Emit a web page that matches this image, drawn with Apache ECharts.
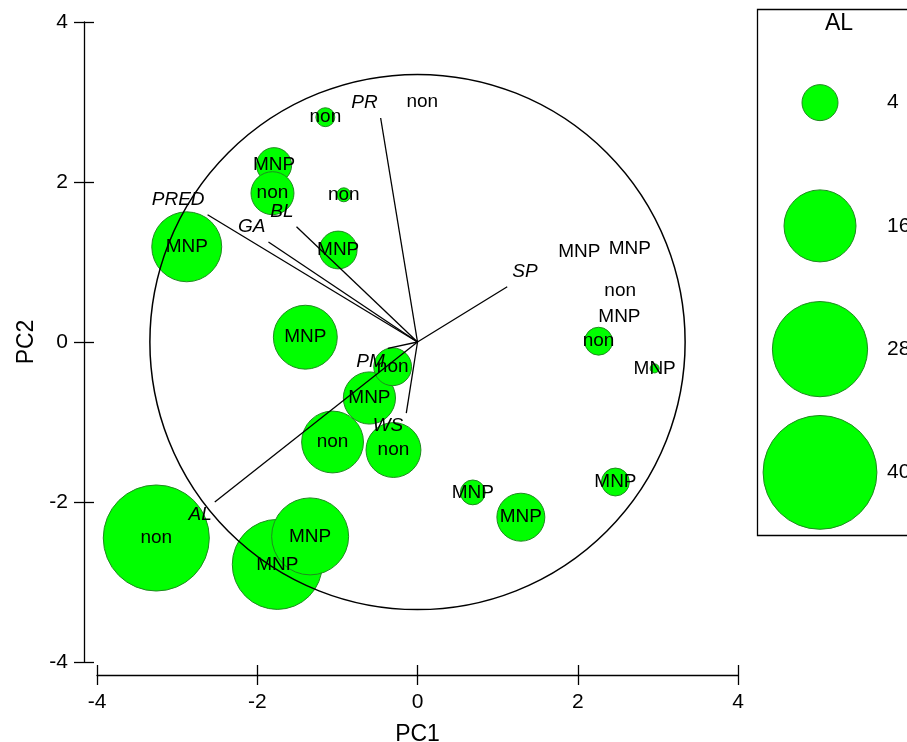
<!DOCTYPE html>
<html>
<head>
<meta charset="utf-8">
<script src="https://cdn.jsdelivr.net/npm/echarts@6/dist/echarts.min.js"></script>
<style>html,body{margin:0;padding:0;background:#fff;}#c{width:907px;height:742px;}</style>
</head>
<body>
<div id="c"></div>
<script>
// ---- data ----
const groups = ['non','MNP','non','non','MNP','MNP','MNP','MNP','non','non','non','non','MNP','MNP','non','MNP','MNP','MNP','non','MNP','non','MNP','MNP','MNP'];
const pc1    = [-1.15,-1.79,-1.81,-0.92,-2.88,-0.99,-1.40,-0.60,-0.31,-1.06,-0.30,-3.26,-1.75,-1.34, 2.26, 2.96, 2.02, 2.65, 2.53, 2.52, 0.06, 0.69, 1.29, 2.47];
const pc2    = [ 2.81, 2.21, 1.86, 1.84, 1.19, 1.15, 0.06,-0.70,-0.31,-1.25,-1.35,-2.45,-2.78,-2.43, 0.01,-0.33, 1.13, 1.16, 0.64, 0.31, 3.00,-1.88,-2.19,-1.75];
const alVals = [ 1.1, 3.8, 5.7, 0.6, 15.1, 4.4, 12.6, 8.4, 4.4, 11.8, 9.3, 34.7, 25, 18.3, 2.4, 0.25, 0, 0, 0, 0, 0, 1.9, 7.1, 2.4];

const vecNames = ['PR','PRED','GA','BL','SP','PM','WS','AL'];
const vecX     = [-0.46,-2.62,-1.86,-1.51, 1.12,-0.37,-0.14,-2.53];
const vecY     = [ 2.80, 1.59, 1.25, 1.44, 0.69,-0.08,-0.89,-2.00];

const circleRadius = 3.34;
const legendVals = [4, 16, 28, 40];
const xTicks = [-4, -2, 0, 2, 4];
const yTicks = [-4, -2, 0, 2, 4];

// ---- chart ----
const FONT = 'Liberation Sans, Arial, sans-serif';
const sizeOf = v => 18 * Math.sqrt(v);
const pts = groups.map((g, i) => [pc1[i], pc2[i], alVals[i], g]);
const vecs = vecNames.map((n, i) => [vecX[i], vecY[i], n]);

const axisCommon = {
  type: 'value', min: xTicks[0], max: xTicks[xTicks.length - 1], interval: 2,
  splitLine: { show: false }
};
const lineStyle = { color: '#000', width: 1.3 };

const chart = echarts.init(document.getElementById('c'), null, { renderer: 'canvas' });
chart.setOption({
  animation: false,
  backgroundColor: '#fff',
  textStyle: { fontFamily: FONT },
  grid: [
    { left: 97, right: 169, top: 22, bottom: 80, containLabel: false, outerBoundsMode: 'none' },
    { left: 761, width: 118, top: 41, height: 493, containLabel: false, outerBoundsMode: 'none' }
  ],
  xAxis: [
    Object.assign({}, axisCommon, {
      gridIndex: 0, position: 'bottom', offset: 13,
      axisLine: { show: true, onZero: false, lineStyle },
      axisTick: { show: true, length: 10, lineStyle },
      axisLabel: { fontSize: 21, color: '#000', margin: 17, fontFamily: FONT },
      name: 'PC1', nameLocation: 'middle', nameGap: 48,
      nameTextStyle: { fontSize: 23, color: '#000', fontFamily: FONT }
    }),
    Object.assign({}, axisCommon, {
      gridIndex: 0, position: 'bottom', offset: 13,
      axisLine: { show: false, onZero: false },
      axisTick: { show: true, inside: true, length: 10, lineStyle },
      axisLabel: { show: false }
    }),
    { type: 'value', gridIndex: 1, min: 0, max: 1, show: false }
  ],
  yAxis: [
    Object.assign({}, axisCommon, {
      min: yTicks[0], max: yTicks[yTicks.length - 1],
      gridIndex: 0, position: 'left', offset: 13,
      axisLine: { show: true, onZero: false, lineStyle },
      axisTick: { show: true, length: 10, lineStyle },
      axisLabel: { fontSize: 21, color: '#000', margin: 16, fontFamily: FONT },
      name: 'PC2', nameLocation: 'middle', nameGap: 43,
      nameTextStyle: { fontSize: 23, color: '#000', fontFamily: FONT }
    }),
    Object.assign({}, axisCommon, {
      min: yTicks[0], max: yTicks[yTicks.length - 1],
      gridIndex: 0, position: 'left', offset: 13,
      axisLine: { show: false, onZero: false },
      axisTick: { show: true, inside: true, length: 10, lineStyle },
      axisLabel: { show: false }
    }),
    {
      type: 'category', gridIndex: 1, inverse: true, position: 'right',
      data: legendVals.map(String),
      axisLine: { show: false }, axisTick: { show: false }, splitLine: { show: false },
      axisLabel: { fontSize: 21, color: '#000', margin: 8, fontFamily: FONT }
    }
  ],
  graphic: [
    { type: 'rect', shape: { x: 757.5, y: 9.5, width: 170, height: 526 },
      style: { fill: 'none', stroke: '#000', lineWidth: 1.3 }, z: 1 },
    { type: 'text', x: 839, y: 24, style: { text: 'AL', font: '23px ' + FONT, fill: '#000',
      textAlign: 'center', textVerticalAlign: 'middle' }, z: 5 }
  ],
  series: [
    {
      type: 'scatter', xAxisIndex: 0, yAxisIndex: 0, z: 2,
      data: pts,
      symbolSize: v => sizeOf(v[2]),
      itemStyle: { color: '#00ff00', borderColor: '#1f8a1f', borderWidth: 1, opacity: 1 },
      emphasis: { disabled: true }
    },
    {
      type: 'custom', xAxisIndex: 0, yAxisIndex: 0, z: 3,
      data: [[0, 0, circleRadius]],
      renderItem: (params, api) => {
        const c = api.coord([api.value(0), api.value(1)]);
        const r = api.size([api.value(2), 0])[0];
        return { type: 'circle', shape: { cx: c[0], cy: c[1], r },
          style: { fill: 'none', stroke: '#000', lineWidth: 1.5 } };
      }
    },
    {
      type: 'custom', xAxisIndex: 0, yAxisIndex: 0, z: 3,
      data: vecs,
      renderItem: (params, api) => {
        const o = api.coord([0, 0]);
        const vx = api.value(0), vy = api.value(1);
        const e = api.coord([vx, vy]);
        const name = vecs[params.dataIndex][2];
        return {
          type: 'group',
          children: [
            { type: 'line', shape: { x1: o[0], y1: o[1], x2: e[0], y2: e[1] },
              style: { stroke: '#000', lineWidth: 1.3 } },
            { type: 'text', x: e[0] + (vx < 0 ? -3 : 5), y: e[1] + (vy < 0 ? 13 : -15),
              style: { text: name, font: 'italic 19px ' + FONT, fill: '#000',
                textAlign: vx < 0 ? 'right' : 'left', textVerticalAlign: 'middle' } }
          ]
        };
      }
    },
    {
      type: 'scatter', xAxisIndex: 0, yAxisIndex: 0, z: 4,
      data: pts, symbolSize: 0,
      itemStyle: { opacity: 1 },
      label: { show: true, position: 'inside', formatter: p => p.value[3],
        fontSize: 19, color: '#000', opacity: 1, fontFamily: FONT },
      emphasis: { disabled: true }
    },
    {
      type: 'scatter', xAxisIndex: 2, yAxisIndex: 2, z: 2,
      data: legendVals.map((v, i) => [0.5, i, v]),
      symbolSize: v => sizeOf(v[2]),
      itemStyle: { color: '#00ff00', borderColor: '#1f8a1f', borderWidth: 1, opacity: 1 },
      emphasis: { disabled: true }
    }
  ]
});
</script>
</body>
</html>
